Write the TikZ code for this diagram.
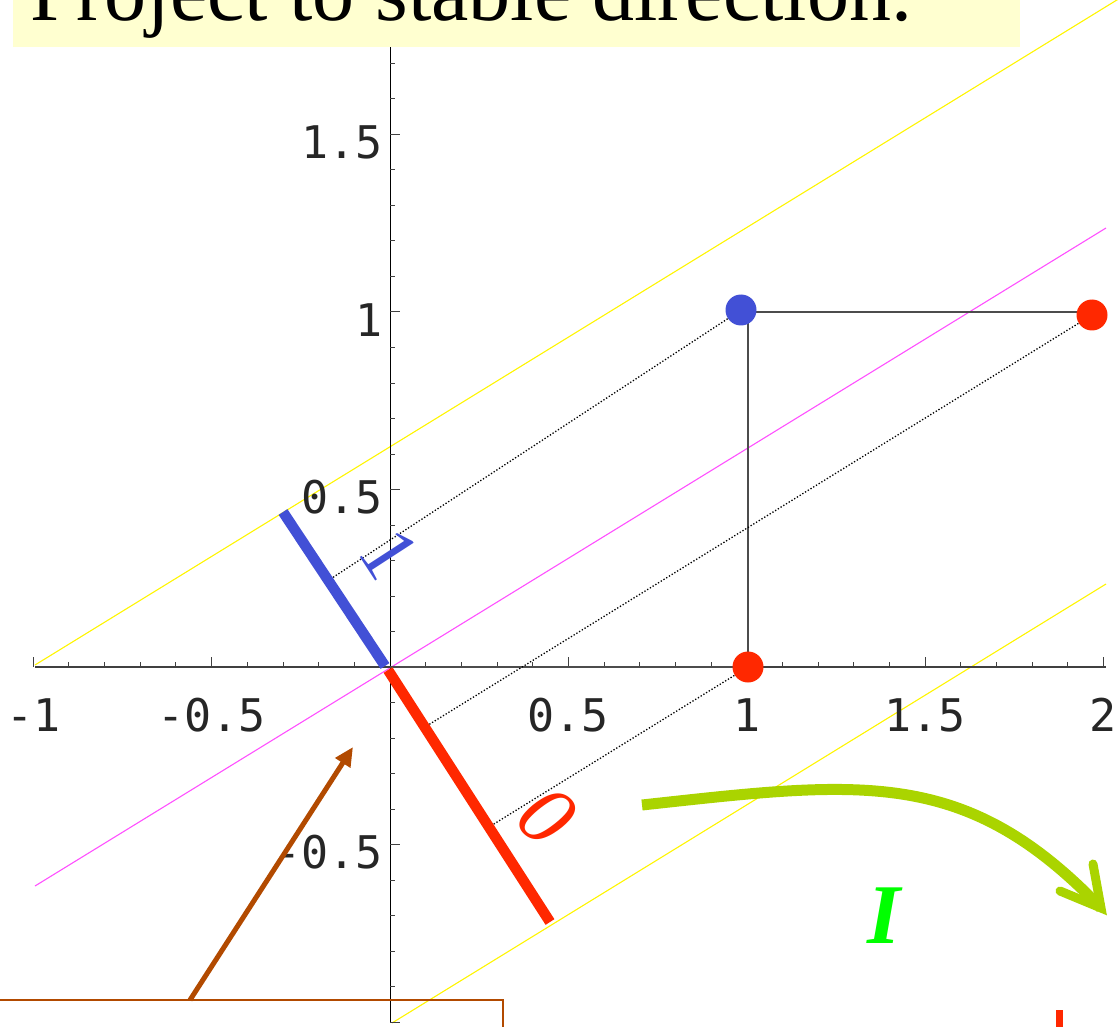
\documentclass[tikz,border=0pt]{standalone}
\usepackage{fontspec}
\setmainfont{Liberation Serif}
\newfontfamily\monofnt{DejaVu Sans Mono}
\usetikzlibrary{arrows.meta}
\definecolor{titlebg}{RGB}{255,255,208}
\definecolor{dotblue}{RGB}{66,80,214}
\definecolor{dotred}{RGB}{255,40,0}
\definecolor{pinkline}{RGB}{255,80,255}
\definecolor{yline}{RGB}{255,245,0}
\definecolor{arrowgreen}{RGB}{170,212,0}
\definecolor{brownc}{RGB}{178,74,0}
\definecolor{labelgreen}{RGB}{0,255,0}
\tikzset{
  axisline/.style={black!75, line width=1.3pt},
  tickmark/.style={black!75, line width=1pt},
  ticklab/.style={inner sep=0pt, text=black!85, font=\monofnt\fontsize{45}{45}\selectfont},
  sqline/.style={black!70, line width=1.3pt},
  projline/.style={black, line width=1.3pt, dash pattern=on 1.3pt off 1.9pt},
  seg/.style={line width=10.5pt, line cap=butt},
  dotnode/.style={circle, inner sep=0pt, minimum size=31pt},
  thinline/.style={line width=1.1pt}
}
\begin{document}
\begin{tikzpicture}[x=1pt,y=-1pt]
\useasboundingbox (0,0) rectangle (1120,1027);
\clip (0,0) rectangle (1120,1027);

% invariant lines
\draw[thinline, yline] (35,665) -- (1125,-5);
\draw[thinline, yline] (392,1023) -- (1106,584);
\draw[thinline, pinkline] (35,886) -- (1106,228);

% axes
\draw[axisline] (35,667) -- (1106,667);
\draw[black, line width=1pt] (390,45) -- (390,1023);
\foreach \i in {-10,...,-1,1,2,...,20}
  \draw[tickmark] ({390+35.667*\i},667) -- ++(0,-5);
\foreach \i in {-10,-5,5,10,15,20}
  \draw[tickmark] ({390+35.667*\i},667) -- ++(0,-10);
\foreach \j in {-10,...,-1,1,2,...,17}
  \draw[tickmark] (390,{667-35.5*\j}) -- ++(5,0);
\foreach \j in {-10,-5,5,10,15}
  \draw[tickmark] (390,{667-35.5*\j}) -- ++(10,0);
\foreach \v/\t in {-10/-1,-5/-0.5,5/0.5,10/1,15/1.5,20/2}
  \node[ticklab, anchor=base] at ({390+35.667*\v},731) {\t};
\foreach \v/\t in {15/1.5,10/1,5/0.5,-5/-0.5}
  \node[ticklab, anchor=base east] at (383,{667-35.5*\v+24}) {\t};

% nodes: points
\coordinate (O) at (390,667);
\coordinate (C10) at (748,667);
\coordinate (C11) at (748,312);
\coordinate (C21) at (1092,312);
\coordinate (p1) at (329,580);
\coordinate (p2) at (425,727);
\coordinate (p3) at (489,827);
\coordinate (bEnd) at (283,512);
\coordinate (bStart) at (385,666);
\coordinate (rStart) at (388,670);
\coordinate (rEnd) at (550,922);

% square edges
\draw[sqline] (O) -- (C10) -- (C11) -- (C21);

% projection lines
\draw[projline] (741,310) -- (p1);
\draw[projline] (1092,315) -- (p2);
\draw[projline] (C10) -- (p3);

% stable segments
\draw[seg, dotblue] (bStart) -- (bEnd);
\draw[seg, dotred] (rStart) -- (rEnd);

% dots
\node[dotnode, fill=dotblue] (blue11) at (741,310) {};
\node[dotnode, fill=dotred] (red21) at (1092,315) {};
\node[dotnode, fill=dotred] (red10) at (748,667) {};

% segment labels
\node[inner sep=0pt, text=dotblue, rotate=-57, font=\fontsize{80}{80}\selectfont] (lab1) at (390,554) {1};
\node[inner sep=0pt, text=dotred, rotate=-42, font=\itshape\fontsize{85}{85}\selectfont] (lab0) at (547,816) {0};

% green curved arrow
\coordinate (gS) at (642,805);
\coordinate (gT) at (1101,908);
\coordinate (gB1) at (1060,891);
\coordinate (gB2) at (1093,864);
\draw[arrowgreen, line width=11pt, line cap=butt] (gS) .. controls (862,781) and (965,766) .. (gT);
\draw[arrowgreen, line width=9pt, line cap=round, line join=miter] (gB1) -- (gT) -- (gB2);
\node[inner sep=0pt, anchor=base, text=labelgreen, font=\bfseries\itshape\fontsize{85}{85}\selectfont] (labI) at (884,943) {I};

% title
\fill[titlebg] (13,-5) rectangle (1020,47);
\node[anchor=base west, inner sep=0pt, font=\fontsize{84}{84}\selectfont] (title) at (30,21) {Project to stable direction.};

% brown box and arrow
\draw[brownc, line width=2pt] (-5,1000) rectangle (503,1040);
\coordinate (boxTop) at (190,1000);
\coordinate (bTip) at (353,747);
\draw[brownc, line width=5pt, -{Triangle[length=19pt,width=17pt]}] (boxTop) -- (bTip);

% red mark at bottom right
\fill[dotred] (1056,1010) rectangle (1063,1030);
\end{tikzpicture}
\end{document}
